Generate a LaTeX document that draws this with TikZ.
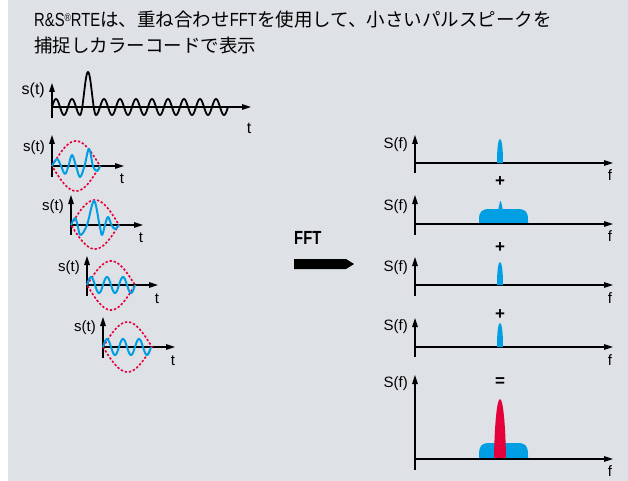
\documentclass[tikz,border=0pt]{standalone}
\usepackage{fontspec}
\setmainfont{Liberation Sans}
\newfontfamily\jpfont{Noto Sans CJK JP}
\newfontfamily\condfont{Liberation Sans}[FakeStretch=0.78]
\usetikzlibrary{arrows.meta}
\definecolor{bg}{RGB}{222,225,229}
\definecolor{sigblue}{RGB}{0,159,227}
\definecolor{sigred}{RGB}{228,0,58}
\newcommand{\latn}[1]{{\condfont\fontsize{19}{24}\selectfont #1}}
\newcommand{\regmark}{{\condfont\fontsize{11}{11}\selectfont\raisebox{5.5pt}{®}}}
\tikzset{
  axis/.style={line width=1.3pt, -{Triangle[length=9pt,width=5.5pt]}},
  lbl/.style={font=\fontsize{15}{15}\selectfont, inner sep=0pt},
  biglbl/.style={font=\fontsize{16}{16}\selectfont, inner sep=0pt},
  opsign/.style={font=\bfseries\fontsize{17}{17}\selectfont, inner sep=0pt},
  envl/.style={sigred, line width=1.6pt, dash pattern=on 2.3pt off 1.9pt},
  wave/.style={sigblue, line width=2pt, line join=round},
  blackwave/.style={black, line width=1.8pt, line join=round},
  titletext/.style={font=\jpfont\fontsize{18.5}{24}\selectfont, inner sep=0pt, anchor=base west},
}
\begin{document}
\begin{tikzpicture}[x=1pt,y=-1pt]
\useasboundingbox (0,0) rectangle (628,481);
\fill[white] (0,0) rectangle (628,481);
\fill[bg] (8,0) rectangle (628,481);

% title
\node[titletext] (title1) at (34,27) {\latn{R\&S}\regmark\latn{RTE}は、重ね合わせ\latn{FFT}を使用して、小さいパルスピークを};
\node[titletext] (title2) at (34,53) {捕捉しカラーコードで表示};

% top signal
\begin{scope}[shift={(52,107)}]
  \draw[axis] (0,11) -- (0,-24);
  \draw[axis] (0,0) -- (199,0);
  \draw[blackwave] plot[domain=0:28, samples=60] (\x, {-8*sin(22.5*\x)})
    -- plot[domain=28:44, samples=50] (\x, {-(-8 + 43*(1+cos(22.5*(\x-36)))/2)})
    -- plot[domain=44:176, samples=240] (\x, {-8*sin(22.5*\x)});
  \node[biglbl, anchor=east] (st0) at (-7,-17) {s(t)};
  \node[biglbl] (t0) at (197,21) {t};
\end{scope}

% windowed segments
\begin{scope}[shift={(52,166)}]
  \draw[axis] (0,11) -- (0,-31);
  \draw[axis] (0,0) -- (72,0);
  \draw[envl] plot[domain=0:48, samples=40] (\x, {-25*sin(3.75*\x)})
    -- plot[domain=48:0, samples=40] (\x, {25*sin(3.75*\x)}) -- cycle;
  \draw[wave] plot[smooth, tension=0.6] coordinates {(0,0) (5,-7) (9,0) (13,8) (16.5,0) (20,-11) (24,0) (28,11) (32.5,0) (37,-17) (41,0) (45,5) (48,0)};
  \node[lbl, anchor=east] (st1) at (-7,-18) {s(t)};
  \node[lbl] (t1) at (70,13) {t};
\end{scope}

\begin{scope}[shift={(71,225)}]
  \draw[axis] (0,10) -- (0,-30);
  \draw[axis] (0,0) -- (72,0);
  \draw[envl] plot[domain=0:48, samples=40] (\x, {-25*sin(3.75*\x)})
    -- plot[domain=48:0, samples=40] (\x, {24*sin(3.75*\x)}) -- cycle;
  \draw[wave] plot[smooth, tension=0.6] coordinates {(0,0) (4,-7) (6.5,0) (9.5,10) (16,0) (23,-24) (28.5,0) (31,10) (34,0) (37,-8) (40.5,0) (44,4) (48,0)};
  \node[lbl, anchor=east] (st2) at (-7,-18) {s(t)};
  \node[lbl] (t2) at (70,13) {t};
\end{scope}

\begin{scope}[shift={(87,285)}]
  \draw[axis] (0,11) -- (0,-29);
  \draw[axis] (0,0) -- (71,0);
  \draw[envl] plot[domain=0:48, samples=40] (\x, {-24*sin(3.75*\x)})
    -- plot[domain=48:0, samples=40] (\x, {25*sin(3.75*\x)}) -- cycle;
  \draw[wave] plot[domain=0:48, samples=80] (\x, {-8*sin(22.5*\x)});
  \node[lbl, anchor=east] (st3) at (-7,-17) {s(t)};
  \node[lbl] (t3) at (70,14) {t};
\end{scope}

\begin{scope}[shift={(103,347)}]
  \draw[axis] (0,11) -- (0,-30);
  \draw[axis] (0,0) -- (72,0);
  \draw[envl] plot[domain=0:49, samples=40] (\x, {-25*sin(180/49*\x)})
    -- plot[domain=49:0, samples=40] (\x, {25*sin(180/49*\x)}) -- cycle;
  \draw[wave] plot[domain=0:48, samples=80] (\x, {-8*sin(22.5*\x)});
  \node[lbl, anchor=east] (st4) at (-7,-19) {s(t)};
  \node[lbl] (t4) at (70,14) {t};
\end{scope}

% FFT arrow
\node[font=\condfont\bfseries\fontsize{19}{19}\selectfont, inner sep=0pt, anchor=base west] (fft) at (294,244) {FFT};
\fill[black] (294,259) -- (346,259) -- (354,264) -- (346,269) -- (294,269) -- cycle;

% spectra
\begin{scope}[shift={(415,163)}]
  \draw[axis] (0,10) -- (0,-28);
  \draw[axis] (0,0) -- (198,0);
  \fill[sigblue] (82,0) .. controls (82,-17) and (83.5,-24) .. (85,-24) .. controls (86.5,-24) and (88,-17) .. (88,0) -- cycle;
  \node[lbl, anchor=east] (sf1) at (-7,-18) {S(f)};
  \node[lbl] (f1) at (195,12) {f};
\end{scope}
\node[opsign] (plus1) at (500,182) {+};

\begin{scope}[shift={(415,224)}]
  \draw[axis] (0,11) -- (0,-29);
  \fill[sigblue] (64,0) -- (64,-4) .. controls (64,-13) and (67,-15) .. (75,-15) -- (102,-15) .. controls (110,-15) and (113,-13) .. (113,-4) -- (113,0) -- cycle;
  \fill[sigblue] (83,-13) .. controls (84,-19) and (85,-23) .. (85.5,-23) .. controls (86,-23) and (87,-19) .. (88,-13) -- cycle;
  \draw[axis] (0,0) -- (198,0);
  \node[lbl, anchor=east] (sf2) at (-7,-17) {S(f)};
  \node[lbl] (f2) at (195,12) {f};
\end{scope}
\node[opsign] (plus2) at (500,248) {+};

\begin{scope}[shift={(415,285)}]
  \draw[axis] (0,11) -- (0,-28);
  \draw[axis] (0,0) -- (198,0);
  \fill[sigblue] (82,0) .. controls (82,-16) and (83.5,-23) .. (85,-23) .. controls (86.5,-23) and (88,-16) .. (88,0) -- cycle;
  \node[lbl, anchor=east] (sf3) at (-7,-17) {S(f)};
  \node[lbl] (f3) at (195,13) {f};
\end{scope}
\node[opsign] (plus3) at (500,315) {+};

\begin{scope}[shift={(415,347)}]
  \draw[axis] (0,10) -- (0,-29);
  \draw[axis] (0,0) -- (198,0);
  \fill[sigblue] (82,0) .. controls (82,-17) and (83.5,-24) .. (85,-24) .. controls (86.5,-24) and (88,-17) .. (88,0) -- cycle;
  \node[lbl, anchor=east] (sf4) at (-7,-20) {S(f)};
  \node[lbl] (f4) at (195,13) {f};
\end{scope}
\node[opsign] (equals) at (500,382) {=};

\begin{scope}[shift={(415,459)}]
  \draw[axis] (0,11) -- (0,-84);
  \fill[sigblue] (64,0) -- (64,-4) .. controls (64,-14) and (67,-16) .. (75,-16) -- (102,-16) .. controls (110,-16) and (113,-14) .. (113,-4) -- (113,0) -- cycle;
  \fill[sigred] (79,0) .. controls (79.5,-35) and (82,-60) .. (85,-60) .. controls (88,-60) and (90.5,-35) .. (91,0) -- cycle;
  \draw[axis] (0,0) -- (198,0);
  \node[lbl, anchor=east] (sf5) at (-7,-75) {S(f)};
  \node[lbl] (f5) at (195,12) {f};
\end{scope}
\end{tikzpicture}
\end{document}
